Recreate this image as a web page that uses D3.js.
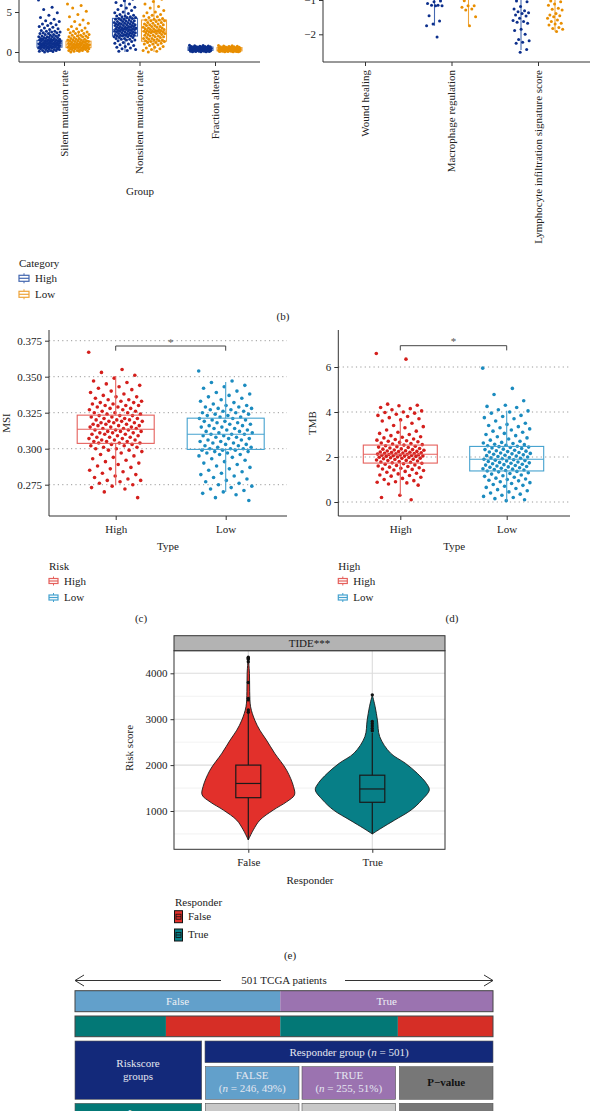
<!DOCTYPE html>
<html><head><meta charset="utf-8">
<script src="https://cdn.jsdelivr.net/npm/d3@7"></script>
<style>body{margin:0;background:#fff}svg{display:block}text{font-family:"Liberation Serif","Times New Roman",serif}</style>
</head><body>
<svg id="chart" width="590" height="1111"></svg>
<script>
// ---------------- DATA ----------------
// (b-left) mutation metrics
const mutCats = ["Silent mutation rate","Nonsilent mutation rate","Fraction altered"];
const silentHigh = [6.5,5.6,5.3,4.9,4.6,4.3,4.1,3.9,3.8,3.6,3.5,3.4,3.3,3.2,3.1,3.0,2.9,2.8,2.7,2.6,2.6,2.5,2.5,2.4,2.4,2.3,2.3,2.2,2.2,2.1,2.1,2.0,2.0,1.9,1.9,1.9,1.8,1.8,1.8,1.7,1.7,1.7,1.6,1.6,1.6,1.5,1.5,1.5,1.5,1.4,1.4,1.4,1.4,1.3,1.3,1.3,1.3,1.2,1.2,1.2,1.2,1.1,1.1,1.1,1.1,1.0,1.0,1.0,1.0,1.0,0.9,0.9,0.9,0.9,0.9,0.8,0.8,0.8,0.8,0.8,0.7,0.7,0.7,0.7,0.6,0.6,0.6,0.6,0.5,0.5,0.5,0.5,0.4,0.4,0.4,0.3,0.3,0.3,0.2,0.2,0.2,0.1,0.1,0.05,0.0];
const silentLow = [6.0,5.8,5.5,5.1,4.7,4.4,4.0,3.8,3.6,3.4,3.2,3.0,2.9,2.8,2.7,2.6,2.5,2.5,2.4,2.3,2.3,2.2,2.1,2.1,2.0,2.0,1.9,1.9,1.8,1.8,1.7,1.7,1.6,1.6,1.5,1.5,1.5,1.4,1.4,1.4,1.3,1.3,1.3,1.2,1.2,1.2,1.1,1.1,1.1,1.0,1.0,1.0,1.0,0.9,0.9,0.9,0.9,0.8,0.8,0.8,0.8,0.7,0.7,0.7,0.7,0.6,0.6,0.6,0.6,0.5,0.5,0.5,0.5,0.4,0.4,0.4,0.4,0.3,0.3,0.3,0.2,0.2,0.2,0.1,0.1,0.1,0.0];
const nonsilentHigh = [7.6,7.2,6.9,6.6,6.4,6.2,6.0,5.8,5.6,5.5,5.3,5.2,5.0,4.9,4.8,4.7,4.6,4.5,4.5,4.4,4.4,4.3,4.3,4.2,4.2,4.1,4.1,4.0,4.0,3.9,3.9,3.8,3.8,3.8,3.7,3.7,3.6,3.6,3.6,3.5,3.5,3.5,3.4,3.4,3.4,3.3,3.3,3.3,3.2,3.2,3.2,3.1,3.1,3.1,3.0,3.0,3.0,3.0,2.9,2.9,2.9,2.8,2.8,2.8,2.8,2.7,2.7,2.7,2.6,2.6,2.6,2.5,2.5,2.5,2.4,2.4,2.4,2.3,2.3,2.3,2.2,2.2,2.2,2.1,2.1,2.1,2.0,2.0,2.0,1.9,1.9,1.8,1.8,1.7,1.7,1.6,1.6,1.5,1.5,1.4,1.3,1.2,1.1,1.0,0.9,0.8,0.7,0.6,0.5,0.4,0.3,0.2,0.1];
const nonsilentLow = [8.2,7.6,7.0,6.6,6.3,6.0,5.7,5.5,5.2,5.0,4.9,4.7,4.6,4.5,4.4,4.3,4.2,4.1,4.0,4.0,3.9,3.9,3.8,3.7,3.7,3.6,3.5,3.5,3.4,3.4,3.3,3.3,3.2,3.2,3.1,3.1,3.0,3.0,2.9,2.9,2.8,2.8,2.8,2.7,2.7,2.7,2.6,2.6,2.6,2.5,2.5,2.5,2.4,2.4,2.4,2.3,2.3,2.2,2.2,2.1,2.1,2.0,2.0,1.9,1.9,1.8,1.8,1.7,1.7,1.6,1.6,1.5,1.5,1.4,1.4,1.3,1.3,1.2,1.2,1.1,1.0,1.0,0.9,0.8,0.7,0.6,0.5,0.4,0.3,0.2,0.1,0.0];
const fractionHigh = [0.85,0.8,0.78,0.75,0.72,0.7,0.68,0.66,0.65,0.63,0.62,0.6,0.58,0.57,0.55,0.54,0.52,0.5,0.49,0.48,0.46,0.45,0.44,0.42,0.41,0.4,0.38,0.37,0.36,0.35,0.33,0.32,0.3,0.29,0.28,0.26,0.25,0.24,0.22,0.2,0.19,0.18,0.16,0.15,0.14,0.12,0.1,0.09,0.08,0.06,0.05,0.04,0.03,0.02];
const fractionLow = [0.82,0.78,0.75,0.72,0.7,0.67,0.65,0.62,0.6,0.58,0.56,0.54,0.52,0.5,0.48,0.46,0.45,0.43,0.42,0.4,0.38,0.37,0.36,0.34,0.33,0.32,0.3,0.29,0.28,0.27,0.25,0.24,0.23,0.22,0.2,0.19,0.18,0.17,0.15,0.14,0.13,0.12,0.1,0.09,0.08,0.07,0.06,0.05,0.04,0.03,0.02];
// box stats: [lower whisker, q1, median, q3, upper whisker]
const mutBoxHigh = [[0,0.6,1.05,1.45,2.7],[0,2.0,2.8,4.2,7.4],[0.02,0.2,0.42,0.62,0.85]];
const mutBoxLow  = [[0,0.55,0.9,1.35,2.5],[0,1.35,2.6,4.0,8.0],[0.02,0.15,0.35,0.55,0.82]];
const mutTicks = [0,5];

// (b-right) immune signatures
const immCats = ["Wound healing","Macrophage regulation","Lymphocyte infiltration signature score"];
const woundHigh = [-0.5,-0.3,0.0];
const woundLow = [-0.4,-0.1,0.2];
const macHigh = [-0.6,-0.8,-0.9,-1.03,-1.05,-1.10,-1.15,-1.15,-1.17,-1.17,-1.46,-1.61,-1.70,-1.75,-2.08];
const macLow = [-0.5,-0.8,-1.02,-1.17,-1.17,-1.21,-1.26,-1.29,-1.49,-1.75];
const lymHigh = [-0.7,-0.9,-1.03,-1.05,-1.19,-1.26,-1.31,-1.34,-1.37,-1.39,-1.44,-1.47,-1.53,-1.60,-1.63,-1.65,-1.68,-1.85,-1.89,-2.00,-2.15,-2.19,-2.23,-2.26,-2.44,-2.52];
const lymLow = [-0.7,-0.9,-1.03,-1.05,-1.12,-1.15,-1.24,-1.27,-1.29,-1.39,-1.44,-1.46,-1.49,-1.53,-1.58,-1.63,-1.68,-1.70,-1.73,-1.80,-1.83,-1.85,-1.92];
const immBoxHigh = [[-0.9,-0.2,0.1,0.4,1.1],[-1.75,-0.7,-0.3,0.2,1.2],[-2.46,-0.8,-0.2,0.4,1.6]];
const immBoxLow  = [[-0.9,-0.3,0.0,0.3,1.0],[-1.73,-0.6,-0.2,0.3,1.3],[-1.92,-0.6,-0.1,0.5,1.7]];
const immTicks = [-2,-1];

// (c) MSI
const riskCats = ["High","Low"];
const msiHigh = [0.367,0.355,0.353,0.351,0.349,0.347,0.346,0.345,0.344,0.343,0.342,0.341,0.340,0.339,0.338,0.337,0.336,0.336,0.335,0.334,0.334,0.333,0.333,0.332,0.332,0.331,0.331,0.330,0.330,0.330,0.329,0.329,0.328,0.328,0.327,0.327,0.326,0.326,0.325,0.325,0.325,0.324,0.324,0.323,0.323,0.323,0.322,0.322,0.321,0.321,0.321,0.320,0.320,0.320,0.319,0.319,0.319,0.318,0.318,0.318,0.317,0.317,0.317,0.316,0.316,0.316,0.315,0.315,0.315,0.314,0.314,0.314,0.313,0.313,0.313,0.312,0.312,0.312,0.311,0.311,0.311,0.310,0.310,0.310,0.309,0.309,0.308,0.308,0.308,0.307,0.307,0.306,0.306,0.306,0.305,0.305,0.305,0.304,0.304,0.304,0.303,0.303,0.302,0.302,0.301,0.301,0.300,0.300,0.299,0.299,0.298,0.297,0.296,0.295,0.294,0.293,0.292,0.291,0.290,0.289,0.288,0.287,0.286,0.285,0.284,0.283,0.282,0.281,0.280,0.279,0.278,0.278,0.277,0.276,0.275,0.274,0.273,0.272,0.270,0.266];
const msiLow = [0.354,0.347,0.346,0.344,0.343,0.342,0.340,0.339,0.338,0.337,0.336,0.335,0.334,0.333,0.332,0.331,0.330,0.330,0.329,0.329,0.328,0.328,0.327,0.327,0.326,0.326,0.325,0.325,0.324,0.324,0.323,0.323,0.322,0.322,0.321,0.321,0.320,0.320,0.319,0.319,0.318,0.318,0.317,0.317,0.316,0.316,0.315,0.315,0.314,0.314,0.313,0.313,0.312,0.312,0.311,0.311,0.310,0.310,0.310,0.309,0.309,0.308,0.308,0.307,0.307,0.306,0.306,0.305,0.305,0.304,0.304,0.303,0.303,0.302,0.302,0.301,0.301,0.300,0.300,0.300,0.299,0.299,0.299,0.298,0.298,0.297,0.297,0.296,0.296,0.295,0.294,0.293,0.292,0.291,0.290,0.289,0.288,0.287,0.286,0.285,0.284,0.283,0.282,0.281,0.280,0.279,0.278,0.277,0.276,0.275,0.274,0.273,0.272,0.271,0.270,0.269,0.268,0.266,0.264];
const msiBox = [[0.2746,0.3037,0.3135,0.3233,0.3504],[0.2700,0.2995,0.3100,0.3212,0.3463]];
const msiTicks = [0.275,0.300,0.325,0.350,0.375];

// (d) TMB
const tmbHigh = [6.6,6.35,4.35,4.3,4.28,4.2,4.15,4.1,4.05,4.0,3.98,3.95,3.9,3.85,3.8,3.75,3.7,3.65,3.6,3.5,3.4,3.35,3.3,3.2,3.15,3.1,3.05,3.0,2.95,2.9,2.88,2.85,2.8,2.78,2.75,2.72,2.7,2.68,2.65,2.62,2.6,2.58,2.55,2.53,2.5,2.48,2.46,2.44,2.42,2.4,2.38,2.36,2.35,2.33,2.31,2.3,2.28,2.27,2.25,2.24,2.22,2.21,2.2,2.19,2.18,2.16,2.15,2.14,2.13,2.12,2.11,2.1,2.09,2.08,2.07,2.06,2.05,2.04,2.03,2.02,2.0,1.99,1.98,1.97,1.95,1.94,1.92,1.9,1.89,1.87,1.85,1.84,1.82,1.8,1.78,1.76,1.74,1.72,1.7,1.68,1.65,1.62,1.6,1.58,1.55,1.52,1.5,1.47,1.45,1.42,1.4,1.36,1.32,1.28,1.25,1.2,1.18,1.15,1.1,1.05,1.0,0.95,0.9,0.88,0.85,0.8,0.75,0.3,0.2,0.1];
const tmbLow = [5.95,5.05,4.78,4.5,4.3,4.25,4.2,4.1,4.05,4.0,3.95,3.85,3.8,3.75,3.7,3.6,3.5,3.45,3.4,3.35,3.3,3.25,3.2,3.15,3.1,3.05,3.0,2.95,2.9,2.85,2.8,2.75,2.7,2.65,2.62,2.6,2.57,2.55,2.52,2.5,2.48,2.46,2.44,2.42,2.4,2.38,2.35,2.33,2.3,2.28,2.26,2.24,2.22,2.2,2.18,2.16,2.14,2.12,2.1,2.08,2.06,2.04,2.02,2.0,1.98,1.96,1.94,1.92,1.9,1.88,1.86,1.84,1.82,1.8,1.78,1.76,1.74,1.72,1.7,1.68,1.66,1.64,1.62,1.6,1.58,1.56,1.54,1.52,1.5,1.48,1.46,1.44,1.42,1.4,1.38,1.36,1.34,1.3,1.27,1.24,1.2,1.17,1.14,1.1,1.06,1.02,1.0,0.97,0.94,0.9,0.86,0.82,0.78,0.74,0.7,0.65,0.6,0.55,0.5,0.45,0.4,0.35,0.3,0.25,0.2,0.15,0.1,0.06];
const tmbBox = [[0.3,1.73,2.12,2.53,3.64],[0.06,1.38,1.90,2.47,4.06]];
const tmbTicks = [0,2,4,6];

// (e) TIDE violin
const respCats = ["False","True"];
const violinFalseV = [4360,4000,3600,3270,2980,2760,2550,2260,1890,1530,1350,1200,1020,800,590,370];
const violinFalseW = [0,0.025,0.03,0.05,0.14,0.25,0.39,0.57,0.83,0.98,1.0,0.83,0.54,0.25,0.11,0];
const violinTrueV = [3530,3270,2980,2620,2260,2040,1820,1600,1460,1240,1020,800,620,500];
const violinTrueW = [0,0.05,0.09,0.13,0.32,0.58,0.79,0.95,1.0,0.87,0.68,0.39,0.15,0];
const violinScale = [0.81,1.0];
const tideBox = [[370,1290,1600,2000,3130],[500,1190,1480,1780,2700]];
const tideOutFalse = [3150,3200,3420,3450,3800,4250,4300,4330,4350];
const tideOutTrue = [2750,2800,2850,2900,2950,3530];
const tideTicks = [1000,2000,3000,4000];
const tideMinor = [500,1500,2500,3500];

// (f) patient table
const totalPatients = 501;
const responderCounts = [246,255];
const responderLabels = ["False","True"];
const riskSegCounts = [109,137,141,114];
const riskSegGroups = ["Low","High","Low","High"];

// ---------------- DRAWING ----------------
const svg = d3.select("#chart");
const FS = 11;
const jit = i => ((i * 0.6180339887) % 1) - 0.5;

function label(x, y, s, o = {}) {
  const t = svg.append("text").attr("x", x).attr("y", y).text(s)
    .attr("font-size", o.size || FS).attr("fill", o.fill || "#222")
    .attr("text-anchor", o.anchor || "start");
  if (o.rotate) t.attr("transform", `rotate(-90,${x},${y})`);
  if (o.weight) t.attr("font-weight", o.weight);
  return t;
}
function line(x1, y1, x2, y2, c = "#333", w = 1, dash, parent = svg) {
  const l = parent.append("line").attr("x1", x1).attr("y1", y1).attr("x2", x2).attr("y2", y2)
    .attr("stroke", c).attr("stroke-width", w);
  if (dash) l.attr("stroke-dasharray", dash);
  return l;
}
function styleAxis(g) {
  g.select(".domain").remove();
  g.selectAll(".tick line").attr("stroke", "#333");
  g.selectAll(".tick text").attr("fill", "#222").attr("font-size", FS)
    .attr("font-family", '"Liberation Serif","Times New Roman",serif');
}
function points(g, vals, cx, jw, y, color, r) {
  g.selectAll(null).data(vals).join("circle")
    .attr("cx", (d, i) => cx + jit(i) * 2 * jw).attr("cy", d => y(d))
    .attr("r", r).attr("fill", color);
}
function boxplot(g, cx, hw, st, y, stroke, sw = 1, fill = "none") {
  g.append("line").attr("x1", cx).attr("x2", cx).attr("y1", y(st[0])).attr("y2", y(st[1])).attr("stroke", stroke).attr("stroke-width", sw);
  g.append("line").attr("x1", cx).attr("x2", cx).attr("y1", y(st[3])).attr("y2", y(st[4])).attr("stroke", stroke).attr("stroke-width", sw);
  g.append("rect").attr("x", cx - hw).attr("width", 2 * hw).attr("y", y(st[3])).attr("height", y(st[1]) - y(st[3]))
    .attr("fill", fill).attr("stroke", stroke).attr("stroke-width", sw);
  g.append("line").attr("x1", cx - hw).attr("x2", cx + hw).attr("y1", y(st[2])).attr("y2", y(st[2])).attr("stroke", stroke).attr("stroke-width", sw);
}
function boxIcon(x, yc, w, h, stroke) {
  const g = svg.append("g");
  g.append("line").attr("x1", x + w / 2).attr("x2", x + w / 2).attr("y1", yc - h / 2 - 2).attr("y2", yc + h / 2 + 2).attr("stroke", stroke);
  g.append("rect").attr("x", x).attr("y", yc - h / 2).attr("width", w).attr("height", h).attr("fill", "#fff").attr("stroke", stroke).attr("stroke-width", 1.2);
  g.append("line").attr("x1", x).attr("x2", x + w).attr("y1", yc).attr("y2", yc).attr("stroke", stroke).attr("stroke-width", 1.2);
}

// ===== Panel (b) left =====
const bHiPt = "#0c2f8c", bHiBox = "#4468b0", bLoPt = "#e88e00", bLoBox = "#eea43a";
{
  const g = svg.append("g");
  const y = d3.scaleLinear().domain([0, 5]).range([52, 12]);
  const x = d3.scalePoint().domain(mutCats).range([64, 215]);
  const hi = [silentHigh, nonsilentHigh, fractionHigh], lo = [silentLow, nonsilentLow, fractionLow];
  mutCats.forEach((c, k) => {
    boxplot(g, x(c) - 14.5, 12.5, mutBoxHigh[k], y, bHiBox, 1.1);
    boxplot(g, x(c) + 14.5, 12.5, mutBoxLow[k], y, bLoBox, 1.1);
    points(g, hi[k], x(c) - 14.5, 11, y, bHiPt, 1.5);
    points(g, lo[k], x(c) + 14.5, 11, y, bLoPt, 1.5);
  });
  line(19, 0, 19, 62); line(19, 62, 260, 62);
  const ay = svg.append("g").attr("transform", "translate(19,0)").call(d3.axisLeft(y).tickValues(mutTicks).tickSize(4).tickSizeOuter(0).tickFormat(d3.format("d")));
  styleAxis(ay);
  const ax = svg.append("g").attr("transform", "translate(0,62)").call(d3.axisBottom(x).tickSize(4).tickFormat(""));
  styleAxis(ax);
  mutCats.forEach(c => label(x(c) + 3.7, 70, c, { anchor: "end", rotate: true }));
  label(140, 195, "Group", { anchor: "middle" });
}
// ===== Panel (b) right =====
{
  const g = svg.append("g");
  const y = d3.scaleLinear().domain([-1, -2]).range([0, 34.3]);
  const x = d3.scalePoint().domain(immCats).range([365, 538]);
  const hi = [woundHigh, macHigh, lymHigh], lo = [woundLow, macLow, lymLow];
  immCats.forEach((c, k) => {
    boxplot(g, x(c) - 17, 12, immBoxHigh[k], y, bHiBox, 1.1);
    boxplot(g, x(c) + 17, 12, immBoxLow[k], y, bLoBox, 1.1);
    points(g, hi[k], x(c) - 17, 8.5, y, bHiPt, 1.5);
    points(g, lo[k], x(c) + 17, 8, y, bLoPt, 1.5);
  });
  line(323, 0, 323, 62); line(323, 62, 590, 62);
  const ay = svg.append("g").attr("transform", "translate(323,0)").call(d3.axisLeft(y).tickValues(immTicks).tickSize(4).tickFormat(d => d3.format("d")(d).replace("-", "\u2212")));
  styleAxis(ay);
  const ax = svg.append("g").attr("transform", "translate(0,62)").call(d3.axisBottom(x).tickSize(4).tickFormat(""));
  styleAxis(ax);
  immCats.forEach(c => label(x(c) + 3.7, 70, c, { anchor: "end", rotate: true }));
}
// legend (b)
label(19, 267, "Category");
boxIcon(19, 278.3, 10, 6, bHiBox); label(35, 282, "High");
boxIcon(19, 294.3, 10, 6, bLoBox); label(35, 298, "Low");
label(283, 319.5, "(b)", { anchor: "middle" });

// ===== Panels (c) & (d) =====
const cHiPt = "#d41f1c", cHiBox = "#e5605c", cLoPt = "#1b8bbf", cLoBox = "#45a2cf";
function riskPanel(opt) {
  const g = svg.append("g");
  const y = d3.scaleLinear().domain(opt.dom).range(opt.rng);
  const x = d3.scalePoint().domain(riskCats).range(opt.xr);
  opt.ticks.forEach(t => line(opt.ax, y(t), opt.xEnd, y(t), "#9a9a9a", 1, "1.2,3.2", g));
  points(g, opt.hi, x("High"), opt.jw, y, cHiPt, 1.8);
  points(g, opt.lo, x("Low"), opt.jw, y, cLoPt, 1.8);
  boxplot(g, x("High"), opt.bw, opt.box[0], y, cHiBox, 1.1);
  boxplot(g, x("Low"), opt.bw, opt.box[1], y, cLoBox, 1.1);
  line(opt.ax, 330, opt.ax, 516); line(opt.ax, 516, opt.xEnd, 516);
  const ay = svg.append("g").attr("transform", `translate(${opt.ax},0)`).call(d3.axisLeft(y).tickValues(opt.ticks).tickSize(4).tickFormat(opt.fmt));
  styleAxis(ay);
  const ax = svg.append("g").attr("transform", "translate(0,516)").call(d3.axisBottom(x).tickSize(4).tickPadding(5));
  styleAxis(ax);
  svg.append("path").attr("d", `M${x("High")},${opt.brY + 4.7}V${opt.brY}H${x("Low")}V${opt.brY + 4.7}`).attr("fill", "none").attr("stroke", "#444");
  label((x("High") + x("Low")) / 2, opt.brY - 0.5, "*", { anchor: "middle", fill: "#555" });
  label((opt.ax + opt.xEnd) / 2, 549.5, "Type", { anchor: "middle" });
  label(opt.ylx, 423, opt.ytitle, { anchor: "middle", rotate: true });
  label(opt.ax, 570, opt.legTitle);
  boxIcon(opt.ax, 581, 9, 5, cHiBox); label(opt.ax + 15, 584.5, "High");
  boxIcon(opt.ax, 597.5, 9, 5, cLoBox); label(opt.ax + 15, 601, "Low");
  label(opt.tag[0], 622, opt.tag[1], { anchor: "middle" });
}
riskPanel({ dom: [0.275, 0.375], rng: [484.7, 340.7], xr: [115.7, 225.7], ax: 49, xEnd: 287, ticks: msiTicks,
  fmt: d3.format(".3f"), hi: msiHigh, lo: msiLow, box: msiBox, bw: 38.5, jw: 27, brY: 346,
  ylx: 10, ytitle: "MSI", legTitle: "Risk", tag: [141, "(c)"] });
riskPanel({ dom: [0, 6], rng: [502, 367], xr: [400.3, 506.7], ax: 338.3, xEnd: 570, ticks: tmbTicks,
  fmt: d3.format("d"), hi: tmbHigh, lo: tmbLow, box: tmbBox, bw: 37, jw: 24, brY: 345.7,
  ylx: 316, ytitle: "TMB", legTitle: "High", tag: [452, "(d)"] });

// ===== Panel (e) =====
{
  const g = svg.append("g");
  const L = 174, R = 445, T = 650.7, B = 849.3;
  const y = d3.scaleLinear().domain([1000, 4000]).range([811, 673.3]);
  const x = d3.scalePoint().domain(respCats).range([248.3, 372.3]);
  tideMinor.forEach(t => line(L, y(t), R, y(t), "#ececec", 0.7, null, g));
  tideTicks.forEach(t => line(L, y(t), R, y(t), "#dcdcdc", 1.1, null, g));
  respCats.forEach(c => line(x(c), T, x(c), B, "#dcdcdc", 1.1, null, g));
  const cols = ["#e2302b", "#077f87"];
  const prof = [d3.zip(violinFalseV, violinFalseW), d3.zip(violinTrueV, violinTrueW)];
  const outs = [tideOutFalse, tideOutTrue];
  respCats.forEach((c, k) => {
    const cx = x(c), s = violinScale[k] * 57;
    const area = d3.area().y(d => y(d[0])).x0(d => cx - d[1] * s).x1(d => cx + d[1] * s).curve(d3.curveCatmullRom.alpha(0.5));
    g.append("path").datum(prof[k]).attr("d", area).attr("fill", cols[k]).attr("stroke", "#1a1a1a").attr("stroke-width", 0.9);
    boxplot(g, cx, 12.5, tideBox[k], y, "#1a1a1a", 1.2);
    g.selectAll(null).data(outs[k]).join("circle").attr("cx", cx).attr("cy", d => y(d)).attr("r", 1.7).attr("fill", "#111");
  });
  svg.append("rect").attr("x", L).attr("y", T).attr("width", R - L).attr("height", B - T).attr("fill", "none").attr("stroke", "#333").attr("stroke-width", 1);
  svg.append("rect").attr("x", L).attr("y", 635.7).attr("width", R - L).attr("height", T - 635.7).attr("fill", "#b3b3b3").attr("stroke", "#333").attr("stroke-width", 1);
  label((L + R) / 2, 647, "TIDE***", { anchor: "middle", fill: "#1a1a1a" });
  const ay = svg.append("g").attr("transform", `translate(${L},0)`).call(d3.axisLeft(y).tickValues(tideTicks).tickSize(3.5).tickFormat(d3.format("d")));
  styleAxis(ay);
  const ax = svg.append("g").attr("transform", `translate(0,${B})`).call(d3.axisBottom(x).tickSize(3.5).tickPadding(5));
  styleAxis(ax);
  label(133, 748, "Risk score", { anchor: "middle", rotate: true });
  label(310, 883.5, "Responder", { anchor: "middle" });
  label(175, 905.5, "Responder");
  [["False", 910.7, 919.5], ["True", 929, 938]].forEach((d, k) => {
    svg.append("rect").attr("x", 174.5).attr("y", d[1]).attr("width", 8).attr("height", 12).attr("fill", cols[k]).attr("stroke", "#111");
    svg.append("rect").attr("x", 176).attr("y", d[1] + 3.5).attr("width", 5).attr("height", 5).attr("fill", "none").attr("stroke", "#111").attr("stroke-width", 0.8);
    line(176, d[1] + 6, 181, d[1] + 6, "#111", 0.8);
    label(188, d[2], d[0]);
  });
  label(290, 959, "(e)", { anchor: "middle" });
}

// ===== Bottom table (f) =====
{
  const xs = d3.scaleLinear().domain([0, totalPatients]).range([75, 493]);
  line(75, 980.5, 221, 980.5, "#333", 1); line(345, 980.5, 493, 980.5, "#333", 1);
  svg.append("path").attr("d", "M84,975L75,980.5L84,986").attr("fill", "none").attr("stroke", "#333");
  svg.append("path").attr("d", "M484,975L493,980.5L484,986").attr("fill", "none").attr("stroke", "#333");
  label(284, 984, "501 TCGA patients", { anchor: "middle" });
  const respCols = ["#62a0cb", "#9b73b0"];
  let acc = 0;
  responderCounts.forEach((n, k) => {
    svg.append("rect").attr("x", xs(acc)).attr("y", 990.7).attr("width", xs(acc + n) - xs(acc)).attr("height", 21).attr("fill", respCols[k]);
    label((xs(acc) + xs(acc + n)) / 2, 1005, responderLabels[k], { anchor: "middle", fill: "#eef0f5" });
    acc += n;
  });
  svg.append("rect").attr("x", 75).attr("y", 990.7).attr("width", 418).attr("height", 21).attr("fill", "none").attr("stroke", "#444");
  const riskCol = { Low: "#037876", High: "#d62e26" };
  acc = 0;
  riskSegCounts.forEach((n, k) => {
    svg.append("rect").attr("x", xs(acc)).attr("y", 1016).attr("width", xs(acc + n) - xs(acc)).attr("height", 20.7).attr("fill", riskCol[riskSegGroups[k]]);
    acc += n;
  });
  svg.append("rect").attr("x", 75).attr("y", 1016).attr("width", 418).attr("height", 20.7).attr("fill", "none").attr("stroke", "#444");
  const cell = (x, y, w, h, f) => svg.append("rect").attr("x", x).attr("y", y).attr("width", w).attr("height", h).attr("fill", f).attr("stroke", "#555").attr("stroke-width", 0.6);
  const light = "#e4e7f0";
  cell(75, 1041, 126.7, 58.3, "#13297a");
  label(138, 1066.5, "Riskscore", { anchor: "middle", fill: light });
  label(138, 1080, "groups", { anchor: "middle", fill: light });
  cell(205, 1041, 288, 21.7, "#13297a");
  const t1 = label(349, 1055.5, "Responder group (", { anchor: "middle", fill: light });
  t1.append("tspan").attr("font-style", "italic").text("n");
  t1.append("tspan").text(" = 501)");
  cell(205.5, 1066.7, 93.5, 32.6, respCols[0]);
  cell(302, 1066.7, 93.6, 32.6, respCols[1]);
  cell(399.4, 1066.7, 93.6, 32.6, "#777");
  label(252.2, 1079, "FALSE", { anchor: "middle", fill: light });
  const t2 = label(252.2, 1092, "(", { anchor: "middle", fill: light });
  t2.append("tspan").attr("font-style", "italic").text("n"); t2.append("tspan").text(" = 246, 49%)");
  label(348.8, 1079, "TRUE", { anchor: "middle", fill: light });
  const t3 = label(348.8, 1092, "(", { anchor: "middle", fill: light });
  t3.append("tspan").attr("font-style", "italic").text("n"); t3.append("tspan").text(" = 255, 51%)");
  label(446.2, 1086, "P\u2212value", { anchor: "middle", fill: "#111", weight: "bold" });
  cell(75, 1103.3, 126.7, 20, "#037876");
  label(138, 1117, "Low", { anchor: "middle", fill: light });
  cell(205.5, 1103.3, 93.5, 20, "#c8c8c8");
  cell(302, 1103.3, 93.6, 20, "#c8c8c8");
  cell(399.4, 1103.3, 93.6, 20, "#777");
}
</script>
</body></html>
